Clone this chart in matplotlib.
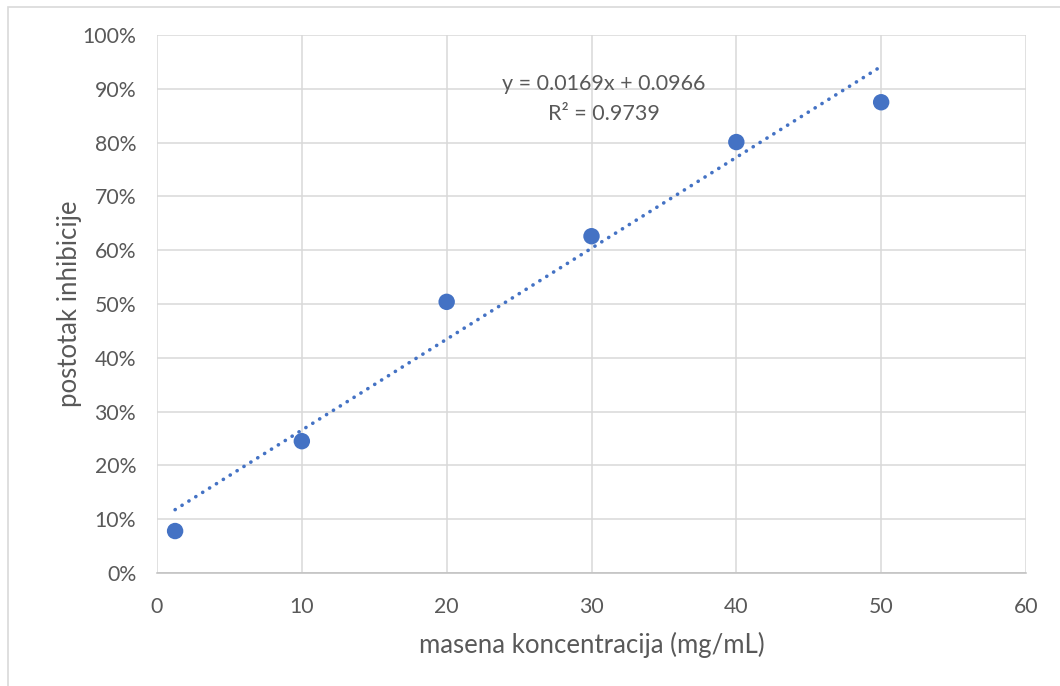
from matplotlib import pyplot as plt
from matplotlib.patches import Rectangle
from matplotlib.ticker import FuncFormatter
import numpy as np

# measured data
koncentracija = [1.25, 10, 20, 30, 40, 50]
inhibicija = [0.078, 0.245, 0.504, 0.626, 0.801, 0.875]

# trendline as reported on the chart
slope = 0.0169
intercept = 0.0966
r2 = 0.9739

x_ticks = [0, 10, 20, 30, 40, 50, 60]
y_ticks = [0.0, 0.1, 0.2, 0.3, 0.4, 0.5, 0.6, 0.7, 0.8, 0.9, 1.0]

plt.rcParams['font.family'] = ['Lato', 'DejaVu Sans']

fig = plt.figure(figsize=(10.6, 6.86), dpi=100)
ax = fig.add_axes([157 / 1060, 113 / 686, 869 / 1060, 538 / 686])

# outer chart frame
fig.patches.append(Rectangle((8 / 1060, -0.05), 1.2, 0.05 + 1 - 7 / 686,
                             transform=fig.transFigure, fill=False,
                             edgecolor='#D9D9D9', linewidth=1.2))

ax.set_xlim(0, 60)
ax.set_ylim(0, 1)
ax.set_xticks(x_ticks)
ax.set_yticks(y_ticks)
ax.yaxis.set_major_formatter(FuncFormatter(lambda v, p: '%d%%' % round(v * 100)))
ax.grid(True, color='#D9D9D9', linewidth=1.1)
ax.set_axisbelow(True)
for side in ['top', 'right', 'left']:
    ax.spines[side].set_visible(False)
ax.spines['bottom'].set_color('#BFBFBF')
ax.spines['bottom'].set_linewidth(1.1)
ax.tick_params(length=0, labelsize=15.3, labelcolor='#595959')
ax.tick_params(axis='x', pad=17)
ax.tick_params(axis='y', pad=15)

xs = np.array([min(koncentracija), max(koncentracija)])
ax.plot(xs, slope * xs + intercept, color='#4472C4', linewidth=2.6,
        linestyle=(0, (0.05, 2.2)), dash_capstyle='round', zorder=2)
ax.scatter(koncentracija, inhibicija, s=140, color='#4472C4', zorder=3,
           edgecolors='none')

ax.text(30.85, 0.909, 'y = %.4fx + %.4f' % (slope, intercept),
        ha='center', va='center', fontsize=15.5, color='#595959')
ax.text(30.85, 0.854, 'R² = %.4f' % r2,
        ha='center', va='center', fontsize=15.5, color='#595959')

ax.set_xlabel('masena koncentracija (mg/mL)', fontsize=18.5, color='#595959',
              labelpad=11)
ax.set_ylabel('postotak inhibicije', fontsize=18.5, color='#595959',
              labelpad=0)

fig.savefig('out.png', dpi=100)
